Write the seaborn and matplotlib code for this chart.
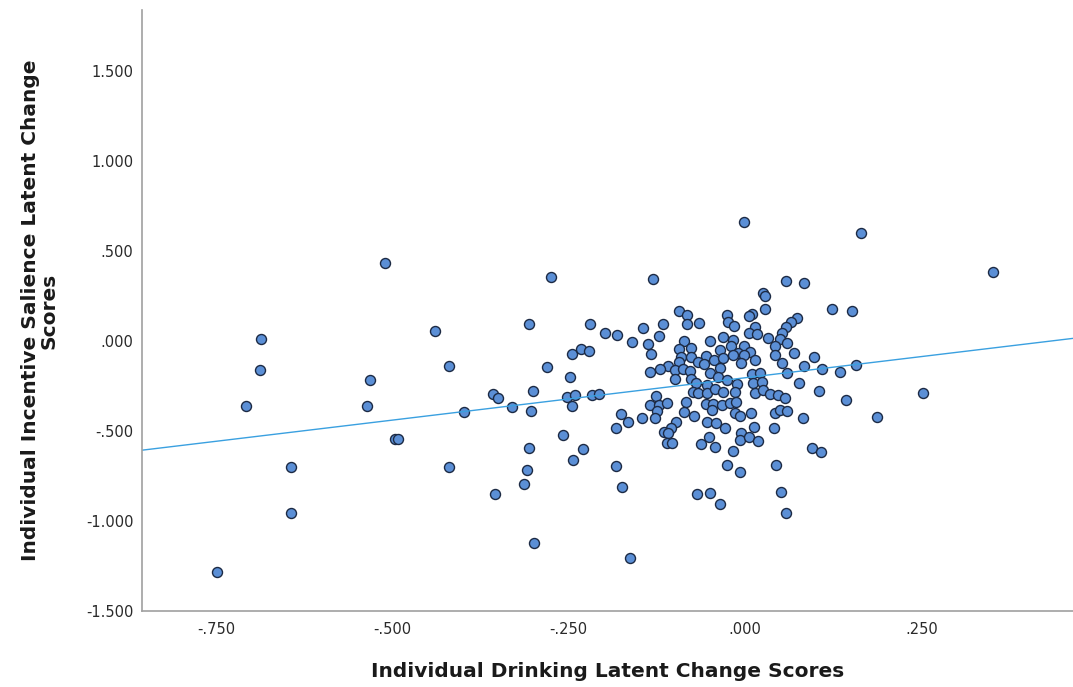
import numpy as np
import pandas as pd
import matplotlib
matplotlib.use("Agg")
import matplotlib.pyplot as plt
from matplotlib.ticker import FixedLocator, FuncFormatter
import seaborn as sns

# individual latent change scores
drinking = [
    -0.749, -0.708, -0.686, -0.688, -0.643, -0.644, -0.536, -0.532, -0.510, -0.496,
    -0.492, -0.439, -0.419, -0.419, -0.398, -0.275, -0.306, -0.220, -0.198, -0.181,
    -0.246, -0.233, -0.221, -0.281, -0.248, -0.358, -0.350, -0.301, -0.253, -0.241,
    -0.217, -0.207, -0.331, -0.304, -0.246, -0.176, -0.183, -0.258, -0.306, -0.229,
    -0.244, -0.183, -0.309, -0.314, -0.355, -0.299, -0.174, -0.131, -0.093, -0.082,
    -0.082, -0.065, -0.116, -0.144, -0.160, -0.122, -0.137, -0.134, -0.087, -0.050,
    -0.093, -0.077, -0.091, -0.077, -0.055, -0.067, -0.094, -0.109, -0.121, -0.135,
    -0.099, -0.088, -0.078, -0.058, -0.099, -0.076, -0.069, -0.054, -0.074, -0.067,
    -0.126, -0.054, -0.135, -0.122, -0.111, -0.125, -0.084, -0.056, -0.166, -0.146,
    -0.127, -0.087, -0.073, -0.098, -0.105, -0.115, -0.109, -0.111, -0.104, -0.054,
    -0.051, -0.063, -0.068, -0.049, -0.163, -0.002, 0.058, 0.083, 0.025, 0.029,
    0.028, 0.010, 0.006, -0.026, -0.024, -0.016, 0.074, 0.065, 0.058, 0.052,
    0.050, 0.014, 0.005, 0.017, 0.033, -0.031, -0.017, -0.002, -0.020, -0.035,
    -0.010, 0.007, -0.002, 0.043, 0.059, 0.069, 0.043, 0.052, 0.014, -0.044,
    -0.031, -0.017, -0.005, -0.035, 0.084, 0.059, 0.077, 0.010, 0.021, -0.050,
    -0.038, -0.026, -0.012, -0.043, -0.031, -0.014, 0.012, 0.024, 0.014, 0.026,
    0.035, 0.047, 0.057, -0.045, -0.033, -0.021, -0.013, -0.047, -0.014, -0.007,
    0.008, 0.043, 0.050, 0.060, 0.082, -0.041, -0.028, 0.013, 0.041, -0.005,
    -0.007, 0.006, 0.019, -0.043, -0.017, -0.026, -0.007, 0.044, -0.036, 0.051,
    0.058, 0.164, 0.351, 0.124, 0.151, 0.098, 0.109, 0.134, 0.157, 0.105,
    0.143, 0.252, 0.187, 0.095, 0.108,
]
salience = [
    -1.282, -0.359, 0.013, -0.161, -0.702, -0.957, -0.359, -0.218, 0.432, -0.546,
    -0.546, 0.056, -0.139, -0.702, -0.393, 0.354, 0.093, 0.093, 0.044, 0.035,
    -0.071, -0.046, -0.054, -0.144, -0.202, -0.294, -0.315, -0.279, -0.309, -0.300,
    -0.302, -0.293, -0.368, -0.389, -0.361, -0.404, -0.483, -0.522, -0.593, -0.598,
    -0.663, -0.693, -0.717, -0.796, -0.852, -1.124, -0.813, 0.343, 0.167, 0.144,
    0.094, 0.098, 0.094, 0.071, -0.007, 0.028, -0.017, -0.074, 0.000, 0.000,
    -0.044, -0.041, -0.087, -0.087, -0.081, -0.115, -0.118, -0.137, -0.156, -0.171,
    -0.161, -0.157, -0.165, -0.128, -0.211, -0.211, -0.235, -0.244, -0.282, -0.291,
    -0.303, -0.288, -0.356, -0.356, -0.346, -0.387, -0.341, -0.348, -0.452, -0.429,
    -0.429, -0.396, -0.417, -0.448, -0.485, -0.504, -0.509, -0.565, -0.568, -0.450,
    -0.532, -0.574, -0.852, -0.844, -1.204, 0.663, 0.335, 0.322, 0.268, 0.250,
    0.176, 0.150, 0.142, 0.144, 0.107, 0.083, 0.128, 0.107, 0.076, 0.043,
    0.009, 0.079, 0.046, 0.039, 0.015, 0.024, 0.006, -0.026, -0.026, -0.050,
    -0.068, -0.059, -0.078, -0.028, -0.013, -0.068, -0.078, -0.124, -0.106, -0.106,
    -0.096, -0.078, -0.121, -0.152, -0.137, -0.179, -0.232, -0.183, -0.179, -0.179,
    -0.202, -0.217, -0.239, -0.267, -0.283, -0.282, -0.235, -0.226, -0.287, -0.272,
    -0.294, -0.297, -0.314, -0.350, -0.356, -0.346, -0.337, -0.383, -0.398, -0.417,
    -0.402, -0.402, -0.383, -0.387, -0.425, -0.457, -0.485, -0.476, -0.485, -0.513,
    -0.550, -0.532, -0.554, -0.591, -0.611, -0.689, -0.726, -0.689, -0.906, -0.837,
    -0.954, 0.602, 0.385, 0.179, 0.168, -0.091, -0.157, -0.174, -0.133, -0.276,
    -0.328, -0.287, -0.424, -0.593, -0.615,
]

x_ticks = [-0.75, -0.5, -0.25, 0.0, 0.25]
y_ticks = [-1.5, -1.0, -0.5, 0.0, 0.5, 1.0, 1.5]

df = pd.DataFrame({"drinking": drinking, "salience": salience})


def spss_fmt(v, pos):
    # SPSS style: drop the leading zero
    s = f"{v:.3f}"
    return s.replace("0.", ".", 1) if abs(v) < 1 else s


sns.set_style("white")
plt.rcParams["font.family"] = ["DejaVu Sans"]

fig = plt.figure(figsize=(10.73, 6.87), dpi=100)
ax = fig.add_axes([0.1323, 0.1106, 0.8677, 0.8748])
ax.set_xlim(-0.855, 0.465)
ax.set_ylim(-1.5, 1.84)

# fit line over the full x range
sns.regplot(data=df, x="drinking", y="salience", ax=ax, ci=None, truncate=False,
            scatter_kws=dict(s=52, color="#5b8fd6", edgecolor="#1c2a44", linewidths=1.0, alpha=1),
            line_kws=dict(color="#3aa0e0", lw=1.0))

ax.set_xlim(-0.855, 0.465)
ax.set_ylim(-1.5, 1.84)
ax.xaxis.set_major_locator(FixedLocator(x_ticks))
ax.yaxis.set_major_locator(FixedLocator(y_ticks))
ax.xaxis.set_major_formatter(FuncFormatter(spss_fmt))
ax.yaxis.set_major_formatter(FuncFormatter(spss_fmt))
ax.tick_params(length=0, labelsize=10.5, labelcolor="#2a2a2a")
ax.tick_params(axis="x", pad=8)
ax.tick_params(axis="y", pad=6)

for side in ["top", "right"]:
    ax.spines[side].set_visible(False)
for side in ["left", "bottom"]:
    ax.spines[side].set_color("#a0a0a0")
    ax.spines[side].set_linewidth(1.2)

ax.set_xlabel("Individual Drinking Latent Change Scores", fontsize=14.5, fontweight="bold",
              color="#1a1a1a", labelpad=18)
ax.set_ylabel("Individual Incentive Salience Latent Change\nScores", fontsize=14.5,
              fontweight="bold", color="#1a1a1a", labelpad=20, linespacing=0.95)

fig.savefig("out.png", dpi=100)
